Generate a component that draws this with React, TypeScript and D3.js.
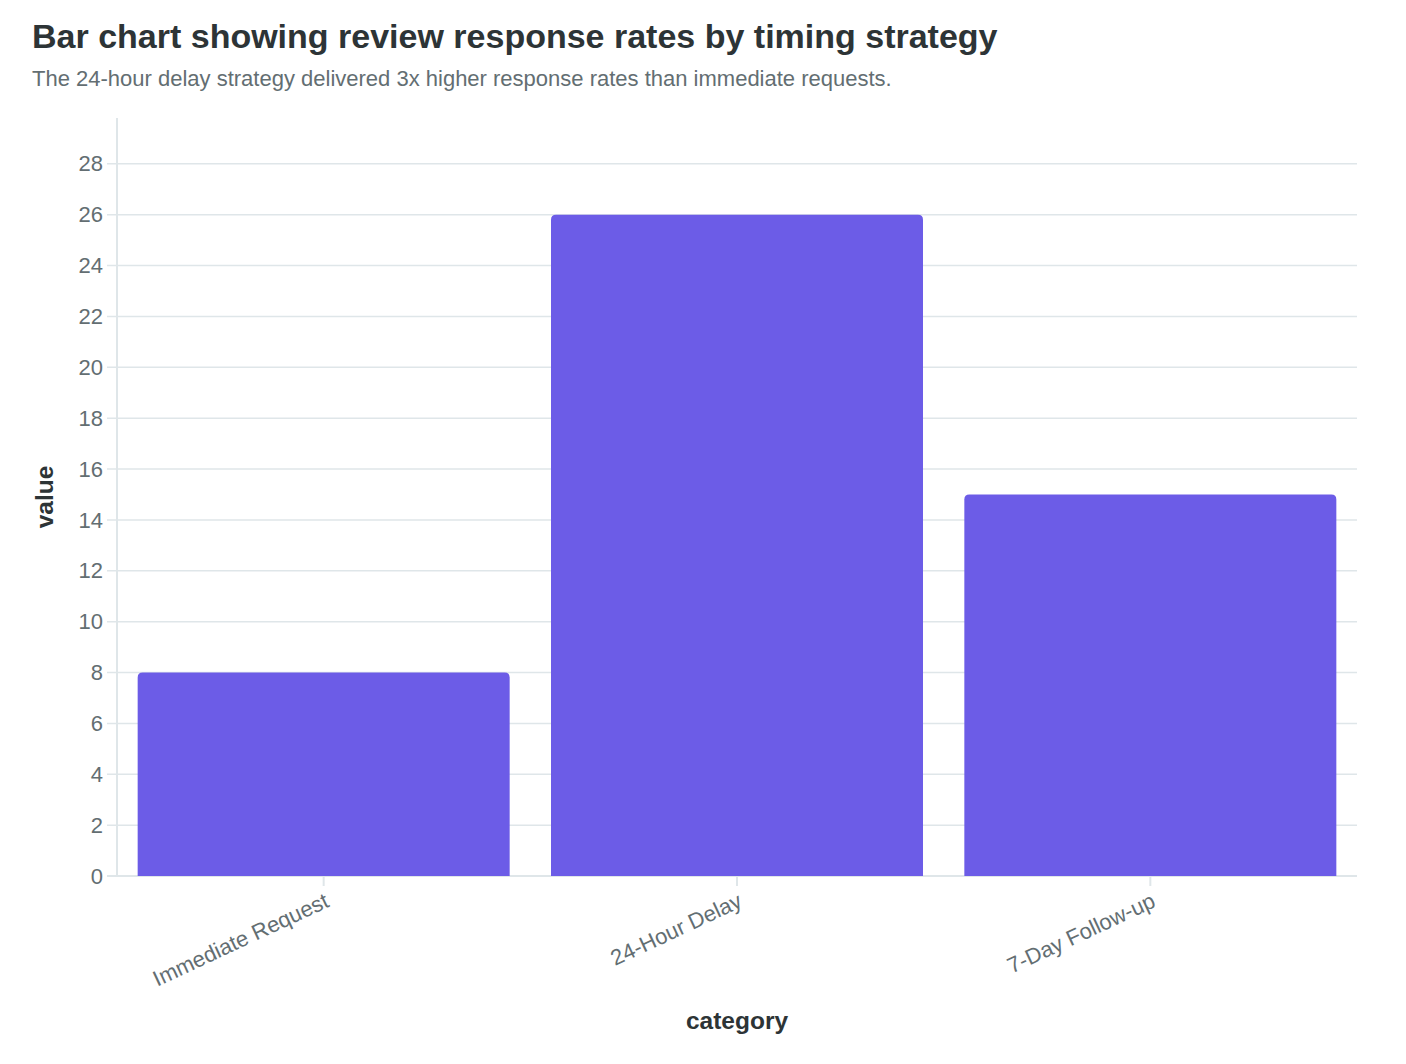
import React from "react";
import * as d3 from "d3";

const categories = ["Immediate Request", "24-Hour Delay", "7-Day Follow-up"];
const values = [8, 26, 15];
const yTicks = [0, 2, 4, 6, 8, 10, 12, 14, 16, 18, 20, 22, 24, 26, 28];

const W = 1406;
const H = 1064;
const M = { left: 117, right: 1357, top: 118, bottom: 876 };
const FONT = "'Liberation Sans', Arial, sans-serif";

function topRoundedRect(x: number, y: number, w: number, h: number, r: number) {
  const rr = Math.min(r, w / 2, h);
  return `M${x},${y + h}V${y + rr}Q${x},${y} ${x + rr},${y}H${x + w - rr}Q${x + w},${y} ${x + w},${y + rr}V${y + h}Z`;
}

export default function App() {
  const x = d3
    .scaleBand<string>()
    .domain(categories)
    .range([M.left, M.right])
    .paddingInner(0.1)
    .paddingOuter(0.05);
  const y = d3.scaleLinear().domain([0, 29.8]).range([M.bottom, M.top]);

  return (
    <svg
      width={W}
      height={H}
      style={{ position: "absolute", left: 0, top: 0, background: "#fff" }}
      fontFamily={FONT}
    >
      <rect x={0} y={0} width={W} height={H} fill="#fff" />
      <text x={32} y={48} fontSize={34} fontWeight="bold" fill="#2d3436">
        Bar chart showing review response rates by timing strategy
      </text>
      <text x={32} y={86} fontSize={22} fill="#636e72">
        The 24-hour delay strategy delivered 3x higher response rates than immediate requests.
      </text>

      {/* grid */}
      {yTicks.map((t) => (
        <g key={t}>
          <line x1={M.left - 10} x2={M.right} y1={y(t)} y2={y(t)} stroke="#dfe6e9" strokeWidth={1.5} />
          <text
            x={M.left - 14}
            y={y(t)}
            dy="0.35em"
            textAnchor="end"
            fontSize={22}
            fill="#636e72"
          >
            {t}
          </text>
        </g>
      ))}

      {/* axes */}
      <line x1={M.left} x2={M.left} y1={M.top} y2={M.bottom} stroke="#dfe6e9" strokeWidth={2} />
      <line x1={M.left - 10} x2={M.right} y1={M.bottom} y2={M.bottom} stroke="#dfe6e9" strokeWidth={2} />

      {/* bars */}
      {categories.map((c, i) => {
        const bx = x(c) as number;
        const bw = x.bandwidth();
        const by = y(values[i]);
        return (
          <path
            key={c}
            d={topRoundedRect(bx, by, bw, M.bottom - by, 5)}
            fill="#6c5ce7"
          />
        );
      })}

      {/* x ticks */}
      {categories.map((c) => {
        const cx = (x(c) as number) + x.bandwidth() / 2;
        return (
          <g key={c}>
            <line x1={cx} x2={cx} y1={M.bottom} y2={M.bottom + 10} stroke="#dfe6e9" strokeWidth={2} />
            <text
              x={cx}
              y={M.bottom + 16}
              dy="0.71em"
              textAnchor="end"
              fontSize={22}
              fill="#636e72"
              transform={`rotate(-25, ${cx}, ${M.bottom + 16})`}
            >
              {c}
            </text>
          </g>
        );
      })}

      <text
        x={53}
        y={497}
        transform="rotate(-90, 53, 497)"
        textAnchor="middle"
        fontSize={24.5}
        fontWeight="bold"
        fill="#2d3436"
      >
        value
      </text>
      <text x={737} y={1029} textAnchor="middle" fontSize={24.5} fontWeight="bold" fill="#2d3436">
        category
      </text>
    </svg>
  );
}
